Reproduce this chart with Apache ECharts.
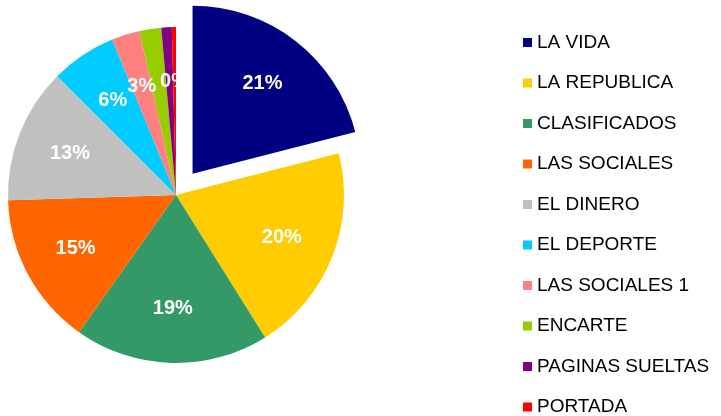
<!DOCTYPE html>
<html>
<head>
<meta charset="utf-8">
<script src="https://cdn.jsdelivr.net/npm/echarts@6/dist/echarts.min.js"></script>
<style>
  html, body { margin: 0; padding: 0; background: #fff; }
  #chart { width: 721px; height: 416px; }
</style>
</head>
<body>
<div id="chart"></div>
<script>
// sections of the paper, clockwise from 12 o'clock
const sections = ['LA VIDA', 'LA REPUBLICA', 'CLASIFICADOS', 'LAS SOCIALES', 'EL DINERO',
  'EL DEPORTE', 'LAS SOCIALES 1', 'ENCARTE', 'PAGINAS SUELTAS', 'PORTADA'];
const shares = [21.0, 20.1, 18.7, 14.7, 13.0, 6.3, 2.7, 2.1, 1.0, 0.4];
const colors = ['#000080', '#FFCC00', '#339966', '#FF6600', '#C0C0C0',
  '#00CCFF', '#FF8080', '#99CC00', '#800080', '#FF0000'];

const center = [176, 195];
const explode = 27;

const pieData = sections.map((name, i) => ({
  name: name,
  value: shares[i],
  selected: i === 0,
  itemStyle: { color: colors[i] }
}));

// second (invisible) pie only to push the percent labels further out
const labelData = sections.map((name, i) => ({
  name: name,
  value: shares[i],
  selected: i === 0,
  itemStyle: { color: 'rgba(0,0,0,0)' }
}));

const chart = echarts.init(document.getElementById('chart'), null, { renderer: 'canvas' });

chart.setOption({
  animation: false,
  legend: {
    orient: 'vertical',
    left: 523,
    top: 33,
    height: 400,
    padding: 0,
    icon: 'rect',
    itemWidth: 9,
    itemHeight: 9,
    itemGap: 21.5,
    selectedMode: false,
    data: sections,
    textStyle: {
      color: '#000',
      fontFamily: 'Liberation Sans, Arial, sans-serif',
      fontSize: 19,
      lineHeight: 18
    }
  },
  series: [
    {
      type: 'pie',
      center: center,
      radius: [0, 168],
      startAngle: 90,
      clockwise: true,
      selectedMode: 'single',
      selectedOffset: explode,
      silent: true,
      label: { show: false },
      labelLine: { show: false },
      data: pieData
    },
    {
      type: 'pie',
      center: center,
      radius: [0, 222],
      startAngle: 90,
      clockwise: true,
      selectedMode: 'single',
      selectedOffset: explode,
      silent: true,
      percentPrecision: 0,
      label: {
        show: true,
        position: 'inside',
        formatter: '{d}%',
        color: '#fff',
        fontFamily: 'Liberation Sans, Arial, sans-serif',
        fontWeight: 'bold',
        fontSize: 20
      },
      labelLine: { show: false },
      data: labelData
    }
  ]
});
</script>
</body>
</html>
